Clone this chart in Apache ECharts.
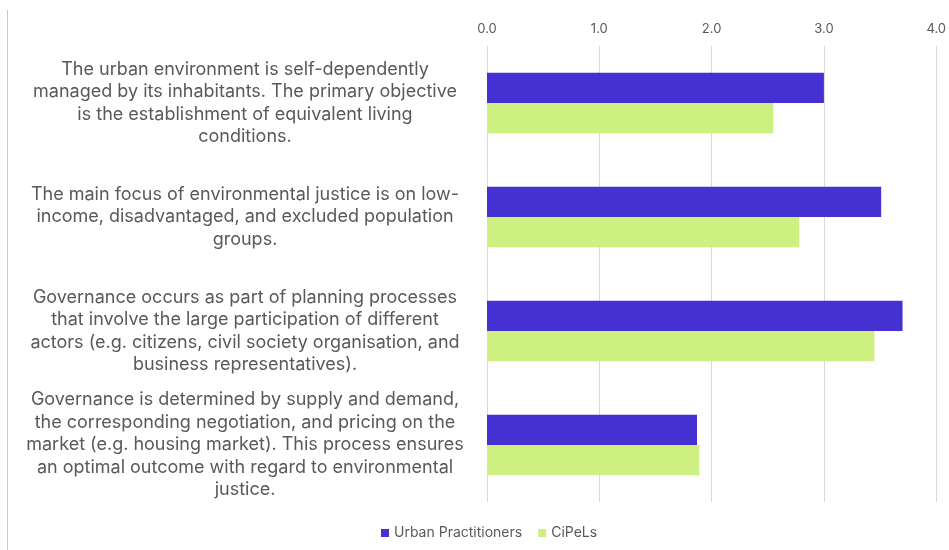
<!DOCTYPE html>
<html>
<head>
<meta charset="utf-8">
<script src="https://cdn.jsdelivr.net/npm/echarts@6/dist/echarts.min.js"></script>
<style>
  html, body { margin: 0; padding: 0; background: #fff; }
  #chart { width: 949px; height: 550px; }
</style>
</head>
<body>
<div id="chart"></div>
<script>
// Statements rated by two respondent groups
const categories = [
  'The urban environment is self-dependently\nmanaged by its inhabitants. The primary objective\nis the establishment of equivalent living\nconditions.',
  'The main focus of environmental justice is on low-\nincome, disadvantaged, and excluded population\ngroups.',
  'Governance occurs as part of planning processes\nthat involve the large participation of different\nactors (e.g. citizens, civil society organisation, and\nbusiness representatives).',
  'Governance is determined by supply and demand,\nthe corresponding negotiation, and pricing on the\nmarket (e.g. housing market). This process ensures\nan optimal outcome with regard to environmental\njustice.'
];
const seriesNames = ['Urban Practitioners', 'CiPeLs'];
const urbanPractitioners = [3.0, 3.51, 3.70, 1.87];
const cipels = [2.55, 2.78, 3.45, 1.89];
const axisTicks = [0, 1, 2, 3, 4];

const chart = echarts.init(document.getElementById('chart'));
const textColor = '#595959';

chart.setOption({
  animation: false,
  textStyle: { fontFamily: 'Inter' },
  grid: { left: 487, right: 11, top: 46, height: 456, containLabel: false },
  legend: {
    bottom: 5,
    left: 376,
    itemWidth: 8,
    itemHeight: 8,
    itemGap: 16,
    icon: 'rect',
    textStyle: { color: textColor, fontSize: 14 },
    data: seriesNames
  },
  xAxis: {
    type: 'value',
    position: 'top',
    min: axisTicks[0],
    max: axisTicks[axisTicks.length - 1],
    interval: 1,
    axisLine: { show: false },
    axisTick: { show: false },
    axisLabel: {
      color: textColor,
      fontSize: 13,
      margin: 10,
      formatter: v => v.toFixed(1)
    },
    splitLine: { lineStyle: { color: '#d9d9d9', width: 1 } }
  },
  yAxis: {
    type: 'category',
    inverse: true,
    data: categories,
    axisLine: { show: false },
    axisTick: { show: false },
    axisLabel: {
      color: textColor,
      fontSize: 18,
      lineHeight: 22.5,
      align: 'center',
      margin: 242
    }
  },
  series: [
    {
      name: seriesNames[0],
      type: 'bar',
      data: urbanPractitioners,
      itemStyle: { color: '#4530d2' },
      barGap: '0%',
      barCategoryGap: '47%'
    },
    {
      name: seriesNames[1],
      type: 'bar',
      data: cipels,
      itemStyle: { color: '#cdf080' },
      barGap: '0%',
      barCategoryGap: '47%'
    }
  ],
  graphic: [
    {
      type: 'line',
      shape: { x1: 7.5, y1: 10, x2: 7.5, y2: 550 },
      style: { stroke: '#c8c8c8', lineWidth: 1 }
    }
  ]
});
</script>
</body>
</html>
